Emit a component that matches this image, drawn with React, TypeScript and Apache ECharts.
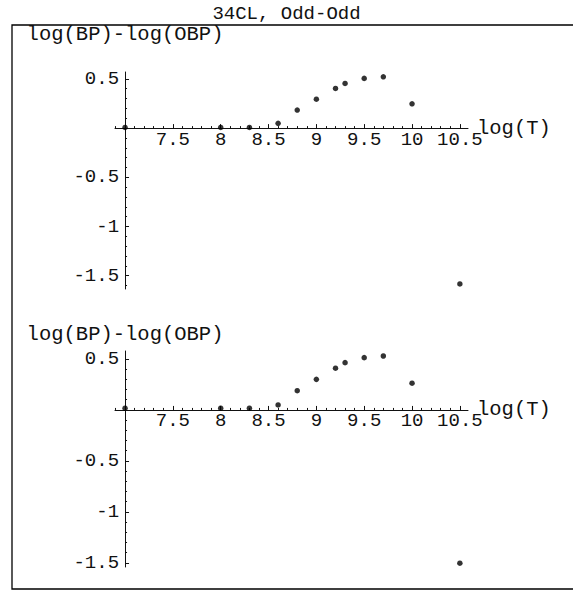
import React, { useEffect, useRef } from "react";
import * as echarts from "echarts";

// ---- data ----
const logT = [7.0, 8.0, 8.3, 8.6, 8.8, 9.0, 9.2, 9.3, 9.5, 9.7, 10.0, 10.5];
const diffTop = [0.007, 0.007, 0.007, 0.048, 0.183, 0.294, 0.403, 0.454, 0.505, 0.521, 0.247, -1.584];
const diffBottom = [0.017, 0.017, 0.017, 0.049, 0.189, 0.3, 0.409, 0.464, 0.513, 0.529, 0.262, -1.503];
const xTickLabels = [7.5, 8, 8.5, 9, 9.5, 10, 10.5];
const yTickLabels = [-1.5, -1, -0.5, 0.5];
const titleText = "34CL, Odd-Odd";
const yName = "log(BP)-log(OBP)";
const xName = "log(T)";

// axis ranges
const X_MIN = 6.895;
const X_MAX = 10.585;
const X_ORIGIN = 7;
const topYRange = [-1.635, 0.57];
const bottomYRange = [-1.54, 0.578];

const FONT = "'Liberation Mono', 'DejaVu Sans Mono', monospace";
const FS = 19;
const NAME_FS = 20.5;
const INK = "#111";

function range(from: number, to: number, stepTenths: number) {
  const out: number[] = [];
  for (let i = Math.round(from * 10); i <= Math.round(to * 10); i += stepTenths) out.push(i / 10);
  return out;
}

export default function App() {
  const ref = useRef<HTMLDivElement>(null);
  useEffect(() => {
    if (!ref.current) return;
    const chart = echarts.init(ref.current, undefined, { renderer: "svg" });

    const gridLeft = 115;
    const gridWidth = 353;
    const yOffset = -((X_ORIGIN - X_MIN) / (X_MAX - X_MIN)) * gridWidth;

    const grids = [
      { left: gridLeft, width: gridWidth, top: 72, height: 217 },
      { left: gridLeft, width: gridWidth, top: 351, height: 216 },
    ];
    const nameGaps = [38, 17];
    const yRanges = [topYRange, bottomYRange];
    const datasets = [diffTop, diffBottom];

    const xMinor = range(6.9, 10.5, 1);
    const xAxes: any[] = [];
    const yAxes: any[] = [];
    const series: any[] = [];

    grids.forEach((g, gi) => {
      const [yMin, yMax] = yRanges[gi];
      const xOffset = -((0 - yMin) / (yMax - yMin)) * g.height;
      const yMinor = range(Math.ceil(yMin * 10) / 10, 0.5, 1);
      // main y axis
      yAxes.push({
        type: "value",
        gridIndex: gi,
        min: yMin,
        max: yMax,
        position: "left",
        offset: yOffset,
        splitLine: { show: false },
        axisLine: { show: true, onZero: false, lineStyle: { color: INK, width: 1 } },
        axisTick: { show: true, inside: true, length: 4, customValues: yTickLabels, lineStyle: { color: INK } },
        axisLabel: {
          show: true,
          customValues: yTickLabels,
          margin: 6,
          fontFamily: FONT,
          fontSize: FS,
          color: INK,
          formatter: (v: number) => String(v),
        },
        name: yName,
        nameLocation: "end",
        nameGap: nameGaps[gi],
        nameMoveOverlap: false,
        nameTextStyle: { fontFamily: FONT, fontSize: NAME_FS, color: INK, align: "center", verticalAlign: "middle" },
      });
      // minor y ticks
      yAxes.push({
        type: "value",
        gridIndex: gi,
        min: yMin,
        max: yMax,
        position: "left",
        offset: yOffset,
        splitLine: { show: false },
        axisLine: { show: false, onZero: false },
        axisTick: { show: true, inside: true, length: 2, customValues: yMinor, lineStyle: { color: INK } },
        axisLabel: { show: false },
      });
      // main x axis
      xAxes.push({
        type: "value",
        gridIndex: gi,
        min: X_MIN,
        max: X_MAX,
        position: "bottom",
        offset: xOffset,
        splitLine: { show: false },
        axisLine: { show: true, onZero: false, lineStyle: { color: INK, width: 1 } },
        axisTick: { show: true, inside: true, length: 4, customValues: xTickLabels, lineStyle: { color: INK } },
        axisLabel: {
          show: true,
          customValues: xTickLabels,
          margin: 2,
          fontFamily: FONT,
          fontSize: FS,
          color: INK,
          formatter: (v: number) => String(v),
        },
        name: xName,
        nameLocation: "end",
        nameGap: 9,
        nameMoveOverlap: false,
        nameTextStyle: { fontFamily: FONT, fontSize: NAME_FS, color: INK, align: "left", verticalAlign: "middle" },
      });
      // minor x ticks
      xAxes.push({
        type: "value",
        gridIndex: gi,
        min: X_MIN,
        max: X_MAX,
        position: "bottom",
        offset: xOffset,
        splitLine: { show: false },
        axisLine: { show: false, onZero: false },
        axisTick: { show: true, inside: true, length: 2, customValues: xMinor, lineStyle: { color: INK } },
        axisLabel: { show: false },
      });
      series.push({
        type: "scatter",
        xAxisIndex: gi * 2,
        yAxisIndex: gi * 2,
        symbol: "circle",
        symbolSize: 5.5,
        itemStyle: { color: "#000" },
        data: logT.map((t, i) => [t, datasets[gi][i]]),
      });
    });

    chart.setOption({
      animation: false,
      backgroundColor: "#fff",
      title: {
        text: titleText,
        left: "center",
        top: -1,
        textStyle: { fontFamily: FONT, fontSize: FS, fontWeight: "normal", color: INK },
      },
      grid: grids,
      xAxis: xAxes,
      yAxis: yAxes,
      series,
      graphic: [
        {
          type: "rect",
          shape: { x: 12, y: 25, width: 620, height: 564 },
          style: { fill: "none", stroke: "#000", lineWidth: 1.3 },
          silent: true,
        },
      ],
    });
    return () => chart.dispose();
  }, []);
  return (
    <div
      ref={ref}
      style={{ position: "fixed", left: 0, top: 0, width: 573, height: 590, background: "#fff" }}
    />
  );
}
